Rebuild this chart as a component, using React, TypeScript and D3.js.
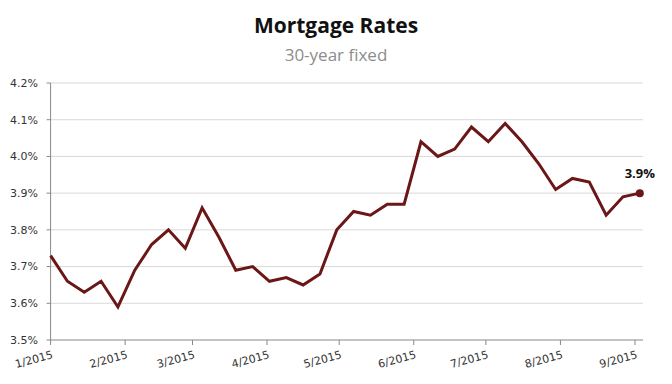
import React from "react";
import * as d3 from "d3";

const title = "Mortgage Rates";
const subtitle = "30-year fixed";

// weekly 30-year fixed rate (%), first week of 2015 onward
const startDate = "2015-01-01";
const rates = [
  3.73, 3.66, 3.63, 3.66, 3.59, 3.69, 3.76, 3.8, 3.75, 3.86, 3.78, 3.69,
  3.7, 3.66, 3.67, 3.65, 3.68, 3.8, 3.85, 3.84, 3.87, 3.87, 4.04, 4.0,
  4.02, 4.08, 4.04, 4.09, 4.04, 3.98, 3.91, 3.94, 3.93, 3.84, 3.89, 3.9,
];
const yTicks = [3.5, 3.6, 3.7, 3.8, 3.9, 4.0, 4.1, 4.2];
const monthTicks = ["1/2015", "2/2015", "3/2015", "4/2015", "5/2015", "6/2015", "7/2015", "8/2015", "9/2015"];

const W = 672;
const H = 384;
const lineColor = "#6b1717";
const font = "'Open Sans', 'DejaVu Sans', sans-serif";
const tickFont = "'DejaVu Sans', sans-serif";

export default function App() {
  const parse = d3.timeParse("%Y-%m-%d");
  const start = parse(startDate)!;
  const data = rates.map((v, i) => ({ date: d3.timeDay.offset(start, i * 7), value: v }));
  const monthDates = monthTicks.map((m) => d3.timeParse("%m/%Y")(m)!);

  const x = d3
    .scaleTime()
    .domain([monthDates[0], monthDates[monthDates.length - 1]])
    .range([50.6, 635]);
  const y = d3.scaleLinear().domain([3.5, 4.2]).range([340, 83]);
  const xEnd = 643;

  const line = d3
    .line<{ date: Date; value: number }>()
    .x((d) => x(d.date))
    .y((d) => y(d.value));

  const last = data[data.length - 1];

  return (
    <svg
      width={W}
      height={H}
      style={{ position: "absolute", left: 0, top: 0, background: "#fff" }}
    >
      <text x={336} y={33} textAnchor="middle" fontFamily={font} fontWeight="bold" fontSize={21} fill="#111">
        {title}
      </text>
      <text x={336} y={61} textAnchor="middle" fontFamily={font} fontSize={17} fill="#8c8c8c">
        {subtitle}
      </text>

      {/* gridlines + y ticks */}
      {yTicks.map((t) => (
        <g key={t}>
          {t > 3.5 && (
            <line x1={x.range()[0]} x2={xEnd} y1={y(t)} y2={y(t)} stroke="#d9d9d9" strokeWidth={1} />
          )}
          <line x1={x.range()[0] - 4} x2={x.range()[0]} y1={y(t)} y2={y(t)} stroke="#888" strokeWidth={1} />
          <text
            x={38}
            y={y(t)}
            dy="0.35em"
            textAnchor="end"
            fontFamily={tickFont}
            fontSize={11}
            fill="#333"
          >
            {d3.format(".1f")(t) + "%"}
          </text>
        </g>
      ))}

      {/* axes */}
      <line x1={x.range()[0]} x2={x.range()[0]} y1={y(4.2)} y2={y(3.5)} stroke="#888" strokeWidth={1} />
      <line x1={x.range()[0]} x2={xEnd} y1={y(3.5)} y2={y(3.5)} stroke="#888" strokeWidth={1} />

      {monthDates.map((d, i) => (
        <g key={i} transform={`translate(${x(d)},${y(3.5)})`}>
          <line y1={0} y2={5} stroke="#888" strokeWidth={1} />
          <text
            transform="translate(3,18) rotate(-15)"
            textAnchor="end"
            fontFamily={tickFont}
            fontSize={11}
            fill="#333"
          >
            {monthTicks[i]}
          </text>
        </g>
      ))}

      <path d={line(data) ?? ""} fill="none" stroke={lineColor} strokeWidth={3} strokeLinejoin="miter" />
      <circle cx={x(last.date)} cy={y(last.value)} r={4} fill={lineColor} />
      <text
        x={x(last.date)}
        y={y(last.value) - 15}
        textAnchor="middle"
        fontFamily={font}
        fontWeight="bold"
        fontSize={13}
        fill="#111"
      >
        {d3.format(".1f")(last.value) + "%"}
      </text>
    </svg>
  );
}
